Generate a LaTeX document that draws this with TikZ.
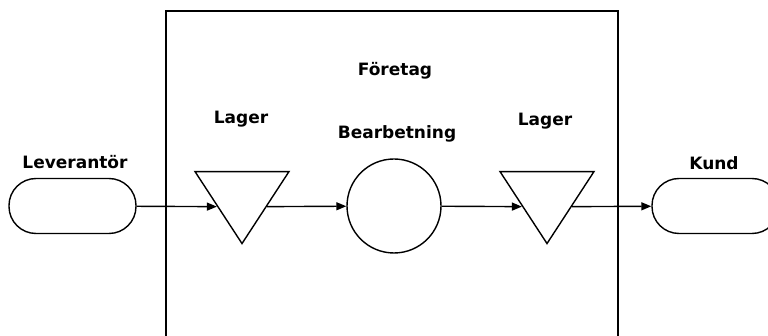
\documentclass[tikz,border=0pt]{standalone}
\usepackage{fontspec}
\setmainfont{DejaVu Sans}
\usetikzlibrary{shapes.geometric,arrows.meta}

\begin{document}
\begin{tikzpicture}[x=1pt,y=-1pt,>={Triangle[length=10pt,width=8pt]},line width=1.4pt,
		font=\fontsize{17}{20}\selectfont\bfseries,
		party node/.style={draw,rectangle,rounded corners=27pt,minimum width=127pt,minimum height=55pt},
		store node/.style={draw,isosceles triangle,shape border rotate=270,isosceles triangle stretches,
			minimum width=94pt,minimum height=72pt,inner sep=0pt},
		work node/.style={draw,circle,minimum size=94pt,inner sep=0pt},
		caption/.style={anchor=base,inner sep=0pt}]
		\useasboundingbox (0,0) rectangle (768,336);
		% företaget
		\draw[line width=1.6pt] (166,345) -- (166,11) -- (618,11) -- (618,345);
		
		% flödet
		\node[party node] (lev) at (72.5,206) {};
		\node[store node] (lag1) at (242,197) {};
		\node[work node] (bea) at (394,206) {};
		\node[store node] (lag2) at (547,197) {};
		\node[party node] (kund) at (715.5,206) {};
		
		% rubriker
		\node[caption] (tlev) at (75,169) {Leverantör};
		\node[caption] (tlag1) at (241,124) {Lager};
		\node[caption] (tfor) at (395,76) {Företag};
		\node[caption] (tbea) at (397,139) {Bearbetning};
		\node[caption] (tlag2) at (545,126) {Lager};
		\node[caption] (tkund) at (714,170) {Kund};
		
		% pilar, in och ut genom trianglarnas sidor
		\path[->]
		(lev) edge (lag1.201)
		(lag1.339) edge (bea)
		(bea) edge (lag2.201)
		(lag2.339) edge (kund);
		
\end{tikzpicture}
\end{document}
